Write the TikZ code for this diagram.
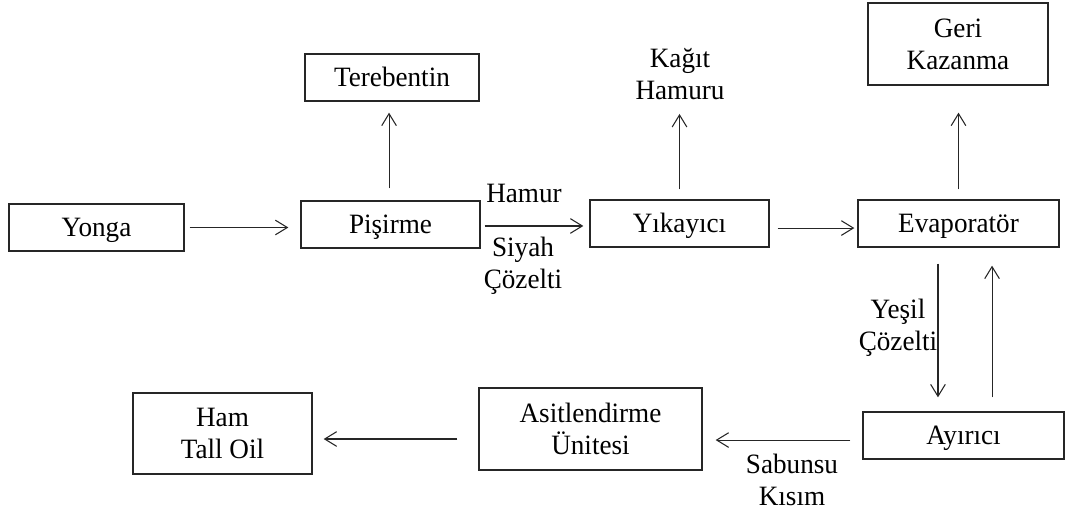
\documentclass[tikz,border=0pt]{standalone}
\usepackage{fontspec}
\setmainfont{Liberation Serif}[FakeStretch=0.97]
\usetikzlibrary{arrows.meta}

\begin{document}
\begin{tikzpicture}[x=0.75pt, y=-0.75pt,
    font=\fontsize{21}{24}\selectfont,
    box/.style={draw=black!85, line width=1pt, align=center, inner sep=0pt},
    oneline/.style={text height=13.9pt, text depth=0pt},
    lbl/.style={align=center, inner sep=0pt},
    flow/.style={draw=black!85, line width=0.8pt, -{Straight Barb[length=9pt, width=11pt]}}]
    \useasboundingbox (0,0) rectangle (1066,511);

    % top row
    \node[box, oneline, minimum width=131.25pt, minimum height=35.25pt] (yonga) at (96.5,227.5) {Yonga};
    \node[box, oneline, minimum width=134.25pt, minimum height=35.25pt] (pisirme) at (390.5,224.5) {Pişirme};
    \node[box, oneline, minimum width=130.5pt, minimum height=35.25pt] (terebentin) at (392,77.5) {Terebentin};
    \node[box, oneline, minimum width=134.25pt, minimum height=35.25pt] (yikayici) at (679.5,223.5) {Yıkayıcı};
    \node[lbl] (kagit) at (680,74) {Kağıt\\Hamuru};
    \node[box, minimum width=135pt, minimum height=61.5pt] (geri) at (958,44) {Geri\\Kazanma};
    \node[box, oneline, minimum width=150.75pt, minimum height=35.25pt] (evaporator) at (958.5,223.5) {Evaporatör};

    % bottom row
    \node[box, oneline, minimum width=150.75pt, minimum height=35.25pt] (ayirici) at (963.5,435.5) {Ayırıcı};
    \node[box, minimum width=167.25pt, minimum height=61.5pt] (asit) at (590.5,429) {Asitlendirme\\Ünitesi};
    \node[box, minimum width=134.25pt, minimum height=60.75pt] (ham) at (222.5,433.5) {Ham\\Tall Oil};

    % stream labels
    \node[lbl] (hamur) at (524,193) {Hamur};
    \node[lbl] (siyah) at (523,266) {Siyah\\Çözelti};
    \node[lbl] (yesil) at (898,328) {Yeşil\\Çözelti};
    \node[lbl] (sabunsu) at (792,480) {Sabunsu\\Kısım};

    \draw[flow, shorten <=3.75pt, shorten >=9pt] (yonga.east) -- (yonga.east -| pisirme.west);
    \draw[flow, shorten <=3pt, shorten >=4.5pt] ([yshift=-1.1pt]pisirme.east) -- ([yshift=-1.1pt]pisirme.east -| yikayici.west);
    \draw[flow, shorten <=6pt, shorten >=2.25pt] ([yshift=-3.4pt]yikayici.east) -- ([yshift=-3.4pt]yikayici.east -| evaporator.west);
    \draw[flow, shorten <=9pt, shorten >=8.25pt] ([xshift=-1.1pt]pisirme.north) -- ([xshift=-1.1pt]pisirme.north |- terebentin.south); % up
    \draw[flow, shorten <=7.5pt, shorten >=10.5pt] (yikayici.north) -- (yikayici.north |- kagit.south); % up
    \draw[flow, shorten <=7.5pt, shorten >=20.25pt] (evaporator.north) -- (evaporator.north |- geri.south); % up

    \draw[flow, shorten <=12pt, shorten >=10.5pt] ([xshift=-15.4pt]evaporator.south) -- ([xshift=-15.4pt]evaporator.south |- ayirici.north); % down
    \draw[flow, shorten <=10.5pt, shorten >=13.5pt] ([xshift=21.4pt]ayirici.north) -- ([xshift=21.4pt]ayirici.north |- evaporator.south); % back up

    \draw[flow, shorten <=9pt, shorten >=9.75pt] ([yshift=-3.4pt]ayirici.west) -- ([yshift=-3.4pt]ayirici.west -| asit.east);
    \draw[flow, shorten <=15.75pt, shorten >=8.25pt] ([yshift=-7.5pt]asit.west) -- ([yshift=-7.5pt]asit.west -| ham.east);
\end{tikzpicture}
\end{document}
